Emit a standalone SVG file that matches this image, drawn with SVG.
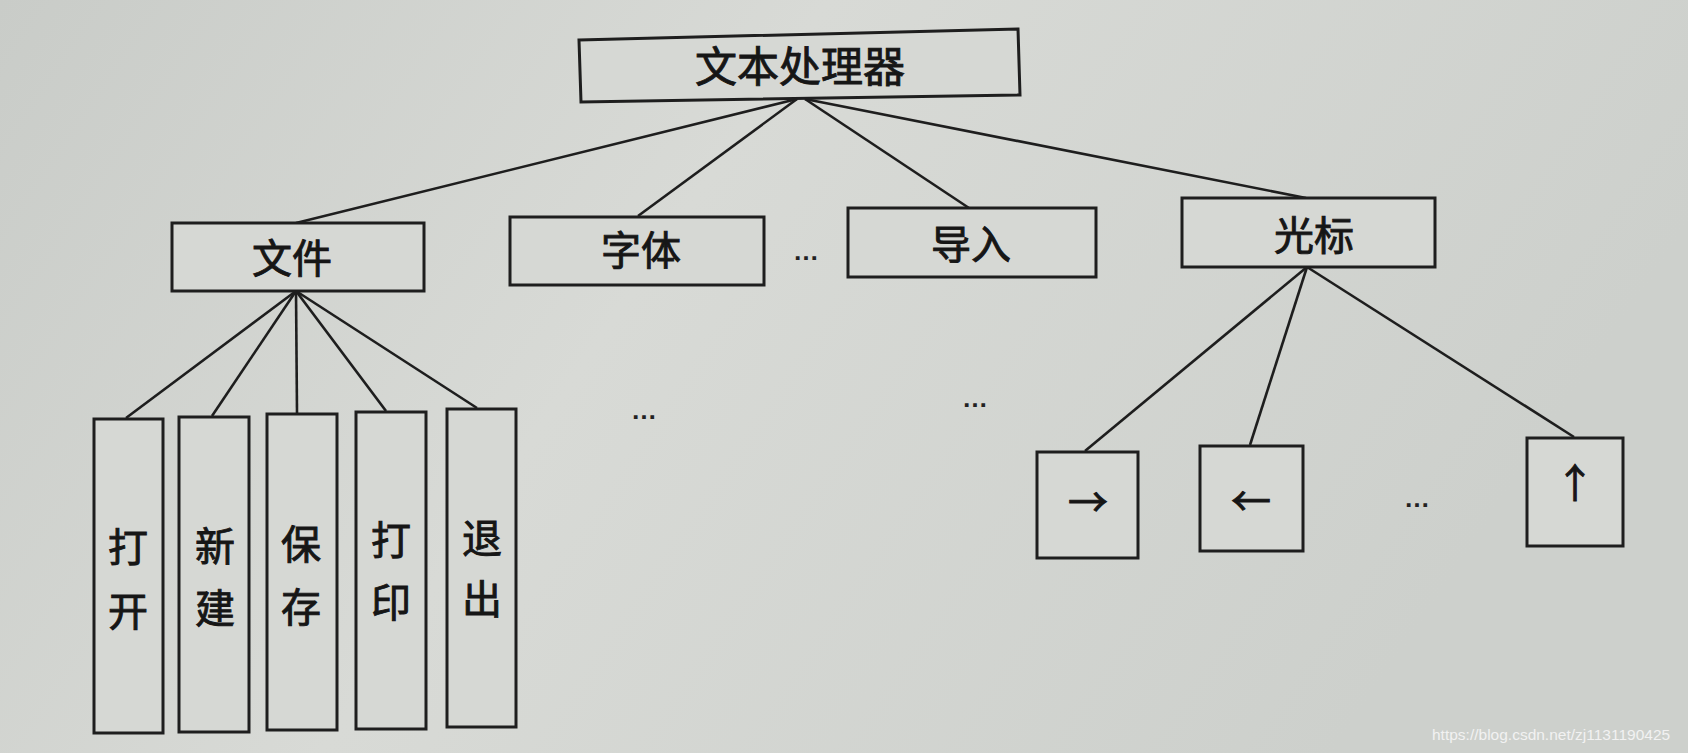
<svg xmlns="http://www.w3.org/2000/svg" width="1688" height="753" viewBox="0 0 1688 753">
<defs>
<linearGradient id="bg" x1="0" y1="0" x2="1" y2="0.3">
<stop offset="0" stop-color="#c9ccc8"/>
<stop offset="0.45" stop-color="#d8dad6"/>
<stop offset="1" stop-color="#cdd0cc"/>
</linearGradient>
<style>
.box{fill:#d6d8d4;stroke:#1e1e1e;stroke-width:3}
.t{font-family:"Noto Sans CJK SC","Noto Sans",sans-serif;font-size:40px;fill:#161616;stroke:#161616;stroke-width:0.9;text-anchor:middle}
.big{font-size:42px}
.dots{font-family:"Liberation Sans",sans-serif;font-size:26px;font-weight:bold;fill:#222;text-anchor:middle}
.ln{stroke:#1e1e1e;stroke-width:2.6;fill:none}
.wm{font-family:"Liberation Sans",sans-serif;font-size:15.5px;fill:#f2f2f2}
</style>
</defs>
<rect x="0" y="0" width="1688" height="753" fill="url(#bg)"/>

<g id="connectors">
<line class="ln" x1="797" y1="99" x2="296" y2="223"/>
<line class="ln" x1="797" y1="99" x2="638" y2="216"/>
<line class="ln" x1="805" y1="99" x2="969" y2="208"/>
<line class="ln" x1="805" y1="99" x2="1306" y2="198"/>
<line class="ln" x1="296" y1="291" x2="126" y2="418"/>
<line class="ln" x1="296" y1="291" x2="212" y2="416"/>
<line class="ln" x1="296" y1="291" x2="297" y2="413"/>
<line class="ln" x1="296" y1="291" x2="386" y2="411"/>
<line class="ln" x1="296" y1="291" x2="477" y2="408"/>
<line class="ln" x1="1307" y1="267" x2="1085" y2="451"/>
<line class="ln" x1="1307" y1="267" x2="1250" y2="445"/>
<line class="ln" x1="1307" y1="267" x2="1574" y2="437"/>
</g>

<g id="root">
<polygon class="box" points="579,40 1018,29 1020,95 581,102"/>
<text class="t big" x="800" y="82">文本处理器</text>
</g>

<g id="wenjian">
<rect class="box" x="172" y="223" width="252" height="68"/>
<text class="t" x="292" y="273">文件</text>
</g>
<g id="ziti">
<rect class="box" x="510" y="217" width="254" height="68"/>
<text class="t" x="641" y="265">字体</text>
</g>
<text class="dots" x="806" y="260">…</text>
<g id="daoru">
<rect class="box" x="848" y="208" width="248" height="69"/>
<text class="t" x="971" y="259">导入</text>
</g>
<g id="guangbiao">
<rect class="box" x="1182" y="198" width="253" height="69"/>
<text class="t" x="1314" y="250">光标</text>
</g>

<g id="dakai">
<rect class="box" x="94" y="419" width="69" height="314"/>
<text class="t" x="128" y="562">打</text>
<text class="t" x="128" y="626">开</text>
</g>
<g id="xinjian">
<rect class="box" x="179" y="417" width="70" height="315"/>
<text class="t" x="215" y="561">新</text>
<text class="t" x="215" y="623">建</text>
</g>
<g id="baocun">
<rect class="box" x="267" y="414" width="70" height="316"/>
<text class="t" x="301" y="559">保</text>
<text class="t" x="301" y="622">存</text>
</g>
<g id="dayin">
<rect class="box" x="356" y="412" width="70" height="317"/>
<text class="t" x="391" y="555">打</text>
<text class="t" x="391" y="617">印</text>
</g>
<g id="tuichu">
<rect class="box" x="447" y="409" width="69" height="318"/>
<text class="t" x="482" y="553">退</text>
<text class="t" x="482" y="614">出</text>
</g>

<text class="dots" x="644" y="419">…</text>
<text class="dots" x="975" y="407">…</text>

<g id="right">
<rect class="box" x="1037" y="452" width="101" height="106"/>
<text class="t" x="1088" y="517">→</text>
</g>
<g id="left">
<rect class="box" x="1200" y="446" width="103" height="105"/>
<text class="t" x="1251" y="516">←</text>
</g>
<text class="dots" x="1417" y="507">…</text>
<g id="up">
<rect class="box" x="1527" y="438" width="96" height="108"/>
<text class="t" x="1575" y="498">↑</text>
</g>

<text class="wm" x="1432" y="740">https://blog.csdn.net/zj1131190425</text>
</svg>
